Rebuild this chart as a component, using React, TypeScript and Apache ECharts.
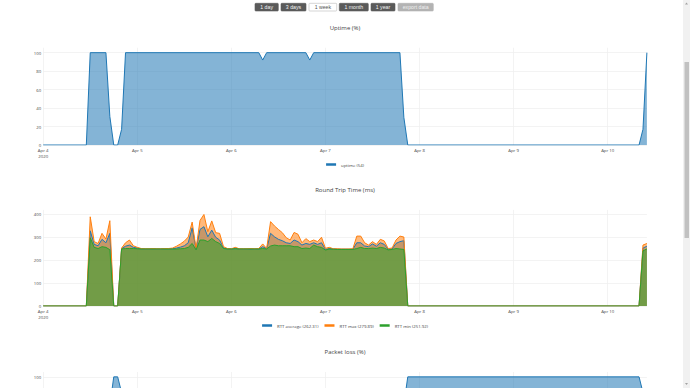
import React, { useEffect, useRef } from 'react';
import * as echarts from 'echarts';

// ---------- data ----------
const dayLabels = ['Apr 4', 'Apr 5', 'Apr 6', 'Apr 7', 'Apr 8', 'Apr 9', 'Apr 10'];
const yearLabel = '2020';
const buttonLabels = ['1 day', '3 days', '1 week', '1 month', '1 year', 'export data'];
const chartTitles = ['Uptime (%)', 'Round Trip Time (ms)', 'Packet loss (%)'];

// x values: hours since Apr 4 2020 00:00
const uptimeHours = [0, 11, 12, 16, 17, 18, 19, 20, 21, 55, 56, 57, 67, 68, 69, 91, 92, 93, 152, 153, 154];
const uptimeValues = [0, 0, 100, 100, 31, 0, 0, 17, 100, 100, 92, 100, 100, 92, 100, 100, 30, 0, 0, 17, 100];

const rttHours = [
  0, 11, 12, 13, 14, 15, 16, 17, 18, 19, 20, 21, 22, 23, 24, 25, 26, 27, 28, 29, 30,
  31, 32, 33, 34, 35, 36, 37, 38, 39, 40, 41, 42, 43, 44, 45, 46, 47, 48, 49, 50,
  51, 52, 53, 54, 55, 56, 57, 58, 59, 60, 61, 62, 63, 64, 65, 66, 67, 68, 69, 70,
  71, 72, 73, 74, 75, 76, 77, 78, 79, 80, 81, 82, 83, 84, 85, 86, 87, 88, 89, 90,
  91, 92, 93, 152, 153, 154,
];
const rttMax = [
  0, 0, 388, 280, 272, 316, 291, 371, 0, 0, 252, 275, 287, 262, 255, 250, 249, 249, 250, 249, 249,
  250, 250, 252, 260, 270, 282, 300, 365, 250, 372, 398, 323, 370, 319, 316, 258, 250, 249, 255, 249,
  249, 249, 250, 249, 250, 270, 250, 367, 348, 333, 319, 297, 287, 320, 312, 275, 293, 280, 287, 280,
  299, 251, 255, 249, 249, 248, 248, 248, 249, 304, 304, 275, 265, 280, 268, 290, 283, 250, 252, 287,
  304, 300, 0, 0, 265, 272,
];
const rttAvg = [
  0, 0, 327, 268, 262, 290, 275, 316, 0, 0, 250, 260, 265, 255, 252, 249, 248, 248, 249, 248, 248,
  249, 249, 249, 252, 256, 262, 275, 340, 247, 333, 345, 301, 330, 299, 287, 252, 249, 248, 251, 248,
  248, 248, 248, 248, 248, 258, 249, 316, 301, 290, 284, 275, 272, 287, 280, 265, 272, 268, 275, 268,
  275, 246, 250, 248, 247, 247, 247, 247, 247, 275, 275, 261, 258, 270, 260, 275, 268, 247, 248, 272,
  280, 284, 0, 0, 252, 260,
];
const rttMin = [
  0, 0, 297, 255, 250, 258, 255, 245, 0, 0, 248, 250, 250, 250, 249, 248, 248, 248, 248, 248, 248,
  248, 248, 248, 248, 249, 250, 255, 272, 244, 287, 287, 280, 294, 280, 272, 250, 248, 248, 249, 248,
  248, 248, 248, 248, 248, 250, 248, 261, 265, 262, 262, 262, 262, 258, 258, 250, 252, 250, 265, 258,
  255, 243, 248, 247, 246, 246, 246, 246, 246, 250, 255, 250, 250, 252, 250, 255, 252, 244, 246, 250,
  248, 246, 0, 0, 240, 248,
];

const lossHours = [0, 16, 17, 18, 19, 20, 21, 91, 92, 93, 152, 153, 154];
const lossValues = [0, 0, 69, 100, 100, 83, 0, 0, 70, 100, 100, 83, 0];

const legendNames = ['uptime (54)', 'RTT average (262.31)', 'RTT max (279.89)', 'RTT min (251.92)', 'packet loss'];

// ---------- styling ----------
const BLUE = '#1f77b4';
const ORANGE = '#ff7f0e';
const GREEN = '#2ca02c';
const TXT = '#444';
const GRIDC = '#eeeeee';
const FONT = '"Open Sans", Verdana, Arial, sans-serif';
const TICK_FS = 4.3;
const VIEW_H = 388;
const CANVAS_H = 480;
const FILL_OPACITY = 0.55;

const zip = (xs: number[], ys: number[]) => xs.map((x, i) => [x, ys[i]]);

const PL = 43.2;
const PW = 603.7;
const grids = [
  { left: PL, width: PW, top: 47.8, height: 97.2 },
  { left: PL, width: PW, top: 209.9, height: 96.1 },
  { left: PL, width: PW, top: 372, height: 97.2 },
];
const yMaxes = [105.26, 418, 105.26];
const yIntervals = [20, 100, 20];

function buildOption() {
  const xAxis = grids.map((g, i) => ({
    type: 'value',
    gridIndex: i,
    min: 0,
    max: 154,
    interval: 24,
    axisLine: { show: false },
    axisTick: { show: false },
    splitLine: {
      show: true,
      lineStyle: { color: [GRIDC, GRIDC, GRIDC, GRIDC, GRIDC, GRIDC, GRIDC, 'rgba(0,0,0,0)'], width: 0.7 },
    },
    axisLabel: {
      show: g.top + g.height < VIEW_H,
      margin: 1.5,
      fontSize: TICK_FS,
      lineHeight: 6,
      color: TXT,
      fontFamily: FONT,
      hideOverlap: false,
      formatter: (v: number) => {
        if (v % 24 !== 0) return '';
        const idx = v / 24;
        return idx === 0 ? dayLabels[0] + '\n' + yearLabel : dayLabels[idx];
      },
    },
  }));
  const yAxis = grids.map((g, i) => {
    const iv = yIntervals[i];
    const ymax = yMaxes[i];
    const n = Math.floor(ymax / iv) + 1;
    const cols: string[] = [];
    for (let k = 0; k < n; k++) cols.push(GRIDC);
    cols.push('rgba(0,0,0,0)');
    return {
      type: 'value',
      gridIndex: i,
      min: 0,
      max: ymax,
      interval: iv,
      axisLine: { show: false },
      axisTick: { show: false },
      splitLine: { show: true, lineStyle: { color: cols, width: 0.7 } },
      axisLabel: {
        margin: 2,
        fontSize: TICK_FS,
        color: TXT,
        fontFamily: FONT,
        formatter: (v: number) => {
          if (Math.abs(v - Math.round(v / iv) * iv) > 1e-6) return '';
          const py = g.top + g.height * (1 - v / ymax);
          return py < VIEW_H - 4 ? String(Math.round(v)) : '';
        },
      },
    };
  });

  const areaSeries = (name: string, xi: number, xs: number[], ys: number[], color: string) => ({
    type: 'line',
    name,
    xAxisIndex: xi,
    yAxisIndex: xi,
    data: zip(xs, ys),
    showSymbol: false,
    symbol: 'none',
    lineStyle: { color, width: 1 },
    itemStyle: { color },
    areaStyle: { color, opacity: FILL_OPACITY },
    emphasis: { disabled: true },
  });

  const graphic: any[] = [];
  const btnX = [255, 281, 309, 339.3, 371, 398];
  const btnW = [23.3, 25, 27.7, 29, 24, 35.3];
  buttonLabels.forEach((label, i) => {
    const isActive = i === 2;
    const isExport = i === 5;
    graphic.push({
      type: 'rect',
      shape: { x: btnX[i], y: 3.3, width: btnW[i], height: 7.7, r: 0.8 },
      style: {
        fill: isActive ? '#ffffff' : isExport ? '#b3b3b3' : '#5a5a5a',
        stroke: isActive ? '#bbbbbb' : isExport ? '#b3b3b3' : '#5a5a5a',
        lineWidth: 0.6,
      },
    });
    graphic.push({
      type: 'text',
      style: {
        text: label,
        x: btnX[i] + btnW[i] / 2,
        y: 7.3,
        textAlign: 'center',
        textVerticalAlign: 'middle',
        fill: isActive ? '#555555' : isExport ? '#eeeeee' : '#f2f2f2',
        font: '5.2px "Liberation Sans", Arial, sans-serif',
      },
    });
  });
  const titleY = [28.3, 190, 352];
  chartTitles.forEach((t, i) => {
    graphic.push({
      type: 'text',
      style: {
        text: t,
        x: 345,
        y: titleY[i],
        textAlign: 'center',
        textVerticalAlign: 'middle',
        fill: TXT,
        font: '6px "Open Sans", Verdana, Arial, sans-serif',
      },
    });
  });
  graphic.push({ type: 'rect', z: 100, shape: { x: 683, y: 0, width: 7, height: VIEW_H }, style: { fill: '#f1f1f1' } });
  graphic.push({ type: 'rect', z: 101, shape: { x: 684.5, y: 62, width: 4.5, height: 176 }, style: { fill: '#c1c1c1' } });
  graphic.push({ type: 'polygon', z: 101, shape: { points: [[686.5, 2.5], [685, 4.5], [688, 4.5]] }, style: { fill: '#a3a3a3' } });
  graphic.push({ type: 'polygon', z: 101, shape: { points: [[686.5, 385], [685, 383], [688, 383]] }, style: { fill: '#a3a3a3' } });

  const legendText = { fontSize: TICK_FS, color: TXT, fontFamily: FONT };

  return {
    animation: false,
    backgroundColor: '#ffffff',
    grid: grids,
    xAxis,
    yAxis,
    legend: [
      {
        data: [legendNames[0]],
        top: 162.5,
        left: 'center',
        padding: 0,
        itemWidth: 10,
        itemHeight: 2.5,
        itemGap: 6,
        icon: 'rect',
        selectedMode: false,
        textStyle: legendText,
      },
      {
        data: [legendNames[1], legendNames[2], legendNames[3]],
        top: 323.5,
        left: 'center',
        padding: 0,
        itemWidth: 10,
        itemHeight: 2.5,
        itemGap: 6,
        icon: 'rect',
        selectedMode: false,
        textStyle: legendText,
      },
    ],
    series: [
      areaSeries(legendNames[0], 0, uptimeHours, uptimeValues, BLUE),
      areaSeries(legendNames[1], 1, rttHours, rttAvg, BLUE),
      areaSeries(legendNames[2], 1, rttHours, rttMax, ORANGE),
      areaSeries(legendNames[3], 1, rttHours, rttMin, GREEN),
      areaSeries(legendNames[4], 2, lossHours, lossValues, BLUE),
    ],
    graphic,
  };
}

export default function App() {
  const ref = useRef<HTMLDivElement>(null);
  useEffect(() => {
    if (!ref.current) return;
    const chart = echarts.init(ref.current, null, { renderer: 'svg' });
    chart.setOption(buildOption() as any);
    return () => chart.dispose();
  }, []);
  return (
    <div
      style={{
        position: 'fixed',
        left: 0,
        top: 0,
        width: 690,
        height: VIEW_H,
        overflow: 'hidden',
        background: '#fff',
      }}
    >
      <div ref={ref} style={{ width: 690, height: CANVAS_H }} />
    </div>
  );
}
